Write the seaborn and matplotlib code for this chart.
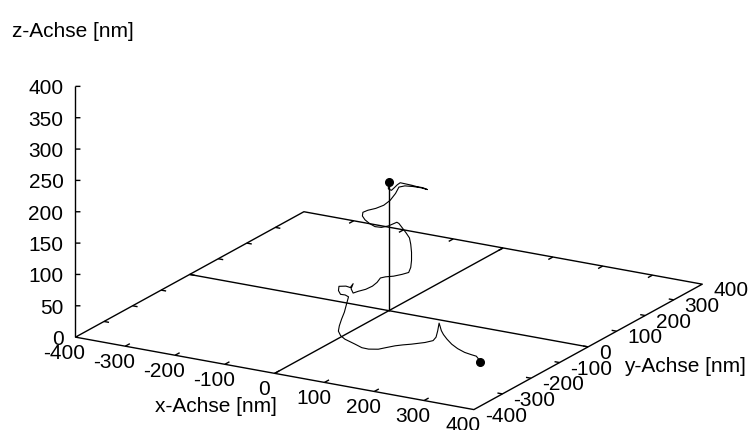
import numpy as np
import matplotlib
matplotlib.use("Agg")
import matplotlib.pyplot as plt
import seaborn as sns

# ---------------- data ----------------
x_ticks = [-400, -300, -200, -100, 0, 100, 200, 300, 400]
y_ticks = [-400, -300, -200, -100, 0, 100, 200, 300, 400]
z_ticks = [0, 50, 100, 150, 200, 250, 300, 350, 400]
x_label = "x-Achse [nm]"
y_label = "y-Achse [nm]"
z_label = "z-Achse [nm]"

traj_x = [0, -1, -1, 4, 8, 13, 17, 26, 35, 42, 51, 58, 48, 36, 24, 15, 10, 2, -8, -20,
          -32, -39, -40, -36, -29, -21, -11, -1, 12, 15, 20, 26, 31, 33, 34, 34, 33, 30, 20, 7,
          -5, -13, -18, -25, -35, -46, -54, -57, -54, -58, -65, -75, -76, -73, -66, -61, -64, -63, -48, -33,
          -20, -4, 12, 41, 61, 75, 90, 97, 106, 115, 126, 142, 149, 144, 129, 110, 120, 134, 148, 166,
          187, 208, 229, 245, 257, 278]
traj_y = [0, 0, 0, 2, 5, 7, 10, 15, 20, 24, 30, 34, 28, 21, 14, 9, 6, 1, -4, -11,
          -18, -23, -23, -21, -17, -12, -7, 0, 7, 9, 12, 15, 18, 19, 20, 20, 19, 17, 11, 4,
          -3, -7, -10, -14, -20, -27, -31, -33, -31, -34, -37, -44, -44, -42, -38, -35, -37, -46, -82, -116,
          -142, -162, -175, -190, -201, -202, -194, -180, -163, -152, -141, -121, -105, -86, -54, -16, -30, -50, -67, -86,
          -106, -122, -134, -139, -142, -164]
traj_z = [205, 199, 194, 192, 196, 201, 204, 202, 200, 198, 196, 193, 196, 198, 199, 197, 187, 176, 168, 163,
          160, 157, 151, 145, 139, 134, 133, 135, 141, 139, 132, 124, 116, 106, 93, 80, 69, 61, 58, 55,
          54, 52, 45, 39, 34, 31, 28, 35, 43, 37, 39, 39, 32, 26, 25, 22, 10, 0, 0, 0,
          0, 0, 0, 0, 0, 0, 0, 0, 0, 0, 0, 0, 0, 0, 0, 0, 0, 0, 0, 0,
          0, 0, 0, 0, 0, 0]

# ---------------- style ----------------
sns.set_theme(style="white")
plt.rcParams['font.family'] = ['Liberation Sans', 'DejaVu Sans']
FS = 15
LW = 1.0
INK = 'black'

fig = plt.figure(figsize=(7.52, 4.30), dpi=100)
fig.patch.set_facecolor('white')
ax = fig.add_axes([0, 0, 1, 1], projection='3d', proj_type='ortho',
                  computed_zorder=False)
ax.set_box_aspect((800, 797, 460))
ax.view_init(elev=18.42, azim=-60.08)
ax.set_axis_off()

xmin, xmax = x_ticks[0], x_ticks[-1]
ymin, ymax = y_ticks[0], y_ticks[-1]
zmin, zmax = z_ticks[0], z_ticks[-1]

def line(xs, ys, zs, lw=LW):
    ax.plot(xs, ys, zs, color=INK, lw=lw, clip_on=False, solid_capstyle='butt')

# base plane border
line([xmin, xmax, xmax, xmin, xmin], [ymin, ymin, ymax, ymax, ymin], [zmin] * 5)
# zero axes in base plane
line([xmin, xmax], [0, 0], [zmin, zmin])
line([0, 0], [ymin, ymax], [zmin, zmin])
# z axis
line([xmin, xmin], [ymin, ymin], [zmin, zmax])

# tick marks
tlen_x = 0.02 * (ymax - ymin)
tlen_y = 0.0125 * (xmax - xmin)
for xv in x_ticks[1:-1]:
    line([xv, xv], [ymin, ymin + tlen_x], [zmin, zmin])
    line([xv, xv], [ymax, ymax - tlen_x], [zmin, zmin])
for yv in y_ticks[1:-1]:
    line([xmax, xmax - tlen_y], [yv, yv], [zmin, zmin])
    line([xmin, xmin + tlen_y], [yv, yv], [zmin, zmin])
for zv in z_ticks[1:]:
    line([xmin, xmin + 7.5], [ymin, ymin + 4.3], [zv, zv])

# vertical line from base to start point
line([traj_x[0], traj_x[0]], [traj_y[0], traj_y[0]], [zmin, traj_z[0]])
# trajectory
line(traj_x, traj_y, traj_z, lw=0.8)
# start / end markers
ax.plot([traj_x[0], traj_x[-1]], [traj_y[0], traj_y[-1]], [traj_z[0], traj_z[-1]],
        ls='none', marker='o', ms=5.5, color=INK, clip_on=False)

ax.set_xlim(xmin, xmax)
ax.set_ylim(ymin, ymax)
ax.set_zlim(zmin, zmax)

# ---------------- calibrate placement of the 3D box ----------------
fig.canvas.draw()
W, H = fig.bbox.width, fig.bbox.height
P = np.array([[xmin, ymin, zmin], [xmax, ymin, zmin], [xmax, ymax, zmin],
              [xmin, ymax, zmin], [xmin, ymin, zmax]], float)
target = np.array([[76, 337], [473, 410], [703, 284], [303, 212], [76, 86]], float)

def project(pts):
    pts = np.atleast_2d(np.asarray(pts, float))
    vec = np.vstack([pts.T, np.ones(len(pts))])
    w = ax.M @ vec
    X, Y = w[0] / w[3], w[1] / w[3]
    return ax.transData.transform(np.column_stack([X, Y]))

for _ in range(2):
    m = project(P)
    t = np.column_stack([target[:, 0], H - target[:, 1]])
    mc, tc = m.mean(0), t.mean(0)
    f = np.sqrt(((t - tc) ** 2).sum() / ((m - mc) ** 2).sum())
    pos = ax.get_position()
    bx0, by0, bw, bh = pos.x0 * W, pos.y0 * H, pos.width * W, pos.height * H
    c = np.array([bx0 + bw / 2, by0 + bh / 2])
    cn = tc - f * (mc - c)
    nw, nh = f * bw, f * bh
    ax.set_position([(cn[0] - nw / 2) / W, (cn[1] - nh / 2) / H, nw / W, nh / H])
    fig.canvas.draw()

# ---------------- labels (placed at projected anchor points) ----------------
def label(x, y, z, s, dx, dy, ha):
    px, py = project([x, y, z])[0]
    fig.text((px + dx) / W, (py - dy) / H, s, ha=ha, va='baseline',
             fontsize=FS, color=INK)

for zv in z_ticks:
    label(xmin, ymin, zv, str(zv), -12, 8, 'right')
for xv in x_ticks:
    label(xv, ymin, zmin, str(xv), -11, 21.5, 'center')
for yv in y_ticks:
    label(xmax, yv, zmin, str(yv), 11, 12, 'left')

label((xmin + xmax) / 2, ymin, zmin, x_label, -58.5, 38.5, 'center')
label(xmax, (ymin + ymax) / 2, zmin, y_label, 97, 25, 'center')
label(xmin, ymin, zmax, z_label, -2.5, -49, 'center')

fig.savefig("out.png", dpi=100, facecolor='white')
